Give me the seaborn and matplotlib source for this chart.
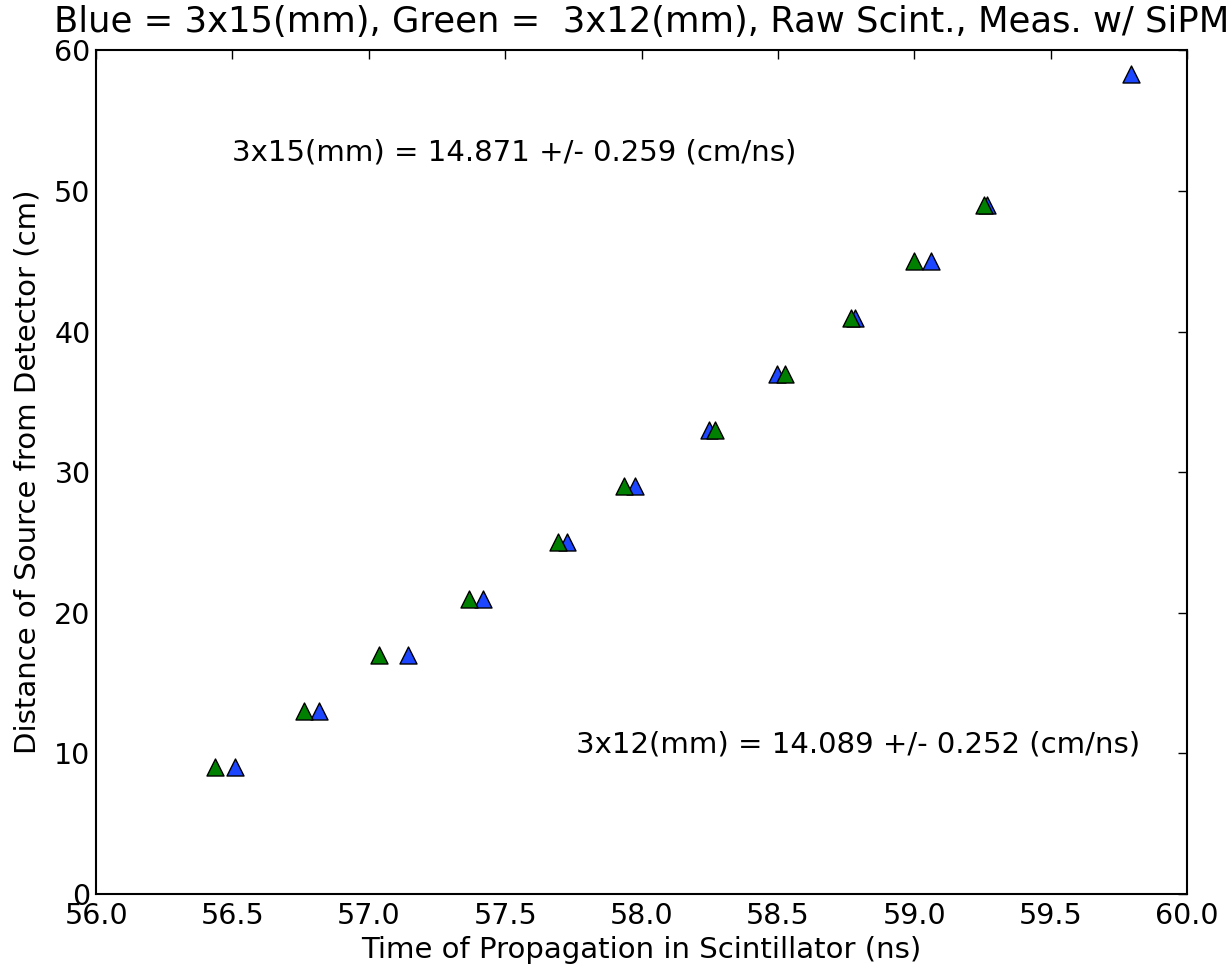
import matplotlib
matplotlib.use("Agg")
import matplotlib.pyplot as plt
import seaborn as sns
import pandas as pd

# Data
distance_15 = [9, 13, 17, 21, 25, 29, 33, 37, 41, 45, 49, 58.3]
time_15 = [56.51, 56.818, 57.144, 57.42, 57.728, 57.976, 58.249, 58.496, 58.783, 59.06, 59.266, 59.795]

distance_12 = [9, 13, 17, 21, 25, 29, 33, 37, 41, 45, 49]
time_12 = [56.435, 56.763, 57.038, 57.366, 57.695, 57.937, 58.271, 58.526, 58.768, 58.999, 59.256]

blue = "#1c46ff"
green = "#008000"

sns.set_style("white")
plt.rcParams["font.family"] = ["DejaVu Sans"]
plt.rcParams.update({
    "text.color": "black",
    "axes.labelcolor": "black",
    "xtick.color": "black",
    "ytick.color": "black",
    "xtick.direction": "in",
    "ytick.direction": "in",
    "xtick.top": True,
    "ytick.right": True,
    "xtick.major.size": 6.5,
    "ytick.major.size": 6.5,
    "xtick.major.width": 1,
    "ytick.major.width": 1,
    "axes.linewidth": 1.5,
    "axes.edgecolor": "black",
})

df_15 = pd.DataFrame({"time": time_15, "distance": distance_15})
df_12 = pd.DataFrame({"time": time_12, "distance": distance_12})

figure = plt.figure(figsize=(12.32, 9.68), dpi=100)
axes = figure.add_axes([0.078, 0.0764, 0.8855, 0.8716])

sns.scatterplot(data=df_15, x="time", y="distance", marker="^", s=150,
                color=blue, edgecolor="black", linewidth=1, ax=axes, zorder=3)
sns.scatterplot(data=df_12, x="time", y="distance", marker="^", s=150,
                color=green, edgecolor="black", linewidth=1, ax=axes, zorder=3)

axes.set_xlim(56, 60)
axes.set_ylim(0, 60)
axes.set_xticks([56.0, 56.5, 57.0, 57.5, 58.0, 58.5, 59.0, 59.5, 60.0])
axes.set_xticklabels([f"{t:.1f}" for t in axes.get_xticks()])
axes.set_yticks([0, 10, 20, 30, 40, 50, 60])
axes.tick_params(axis="x", labelsize=20.5, pad=6)
axes.tick_params(axis="y", labelsize=20.5, pad=4)

axes.set_xlabel("Time of Propagation in Scintillator (ns)", fontsize=21, labelpad=4)
axes.set_ylabel("Distance of Source from Detector (cm)", fontsize=21, labelpad=9)
axes.set_title("Blue = 3x15(mm), Green =  3x12(mm), Raw Scint., Meas. w/ SiPM",
               fontsize=25.5, pad=13)

axes.text(56.5, 52.2, "3x15(mm) = 14.871 +/- 0.259 (cm/ns)", fontsize=21)
axes.text(57.76, 10.1, "3x12(mm) = 14.089 +/- 0.252 (cm/ns)", fontsize=21)

figure.savefig("out.png", dpi=100)
